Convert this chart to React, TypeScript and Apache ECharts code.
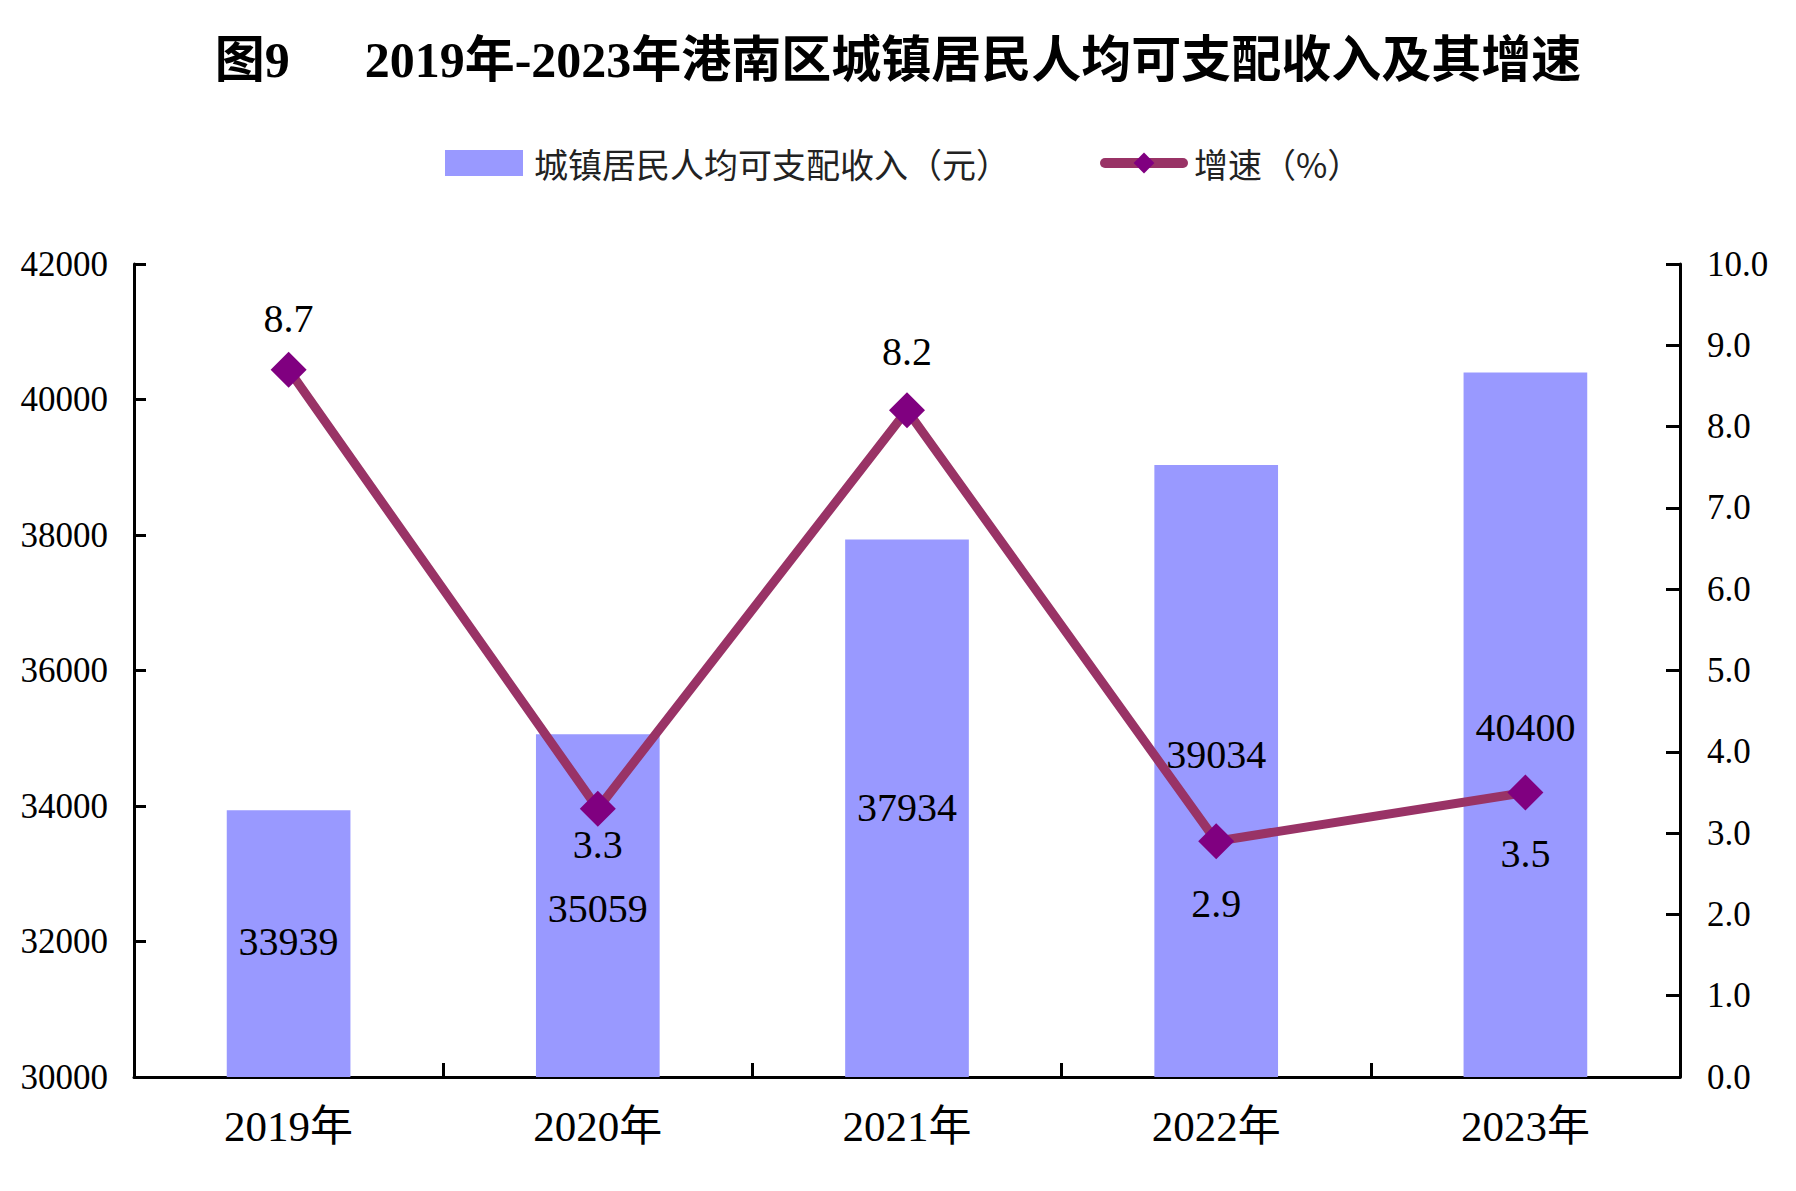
import React, { useEffect, useRef } from "react";
import * as echarts from "echarts";

const categories = ["2019年", "2020年", "2021年", "2022年", "2023年"];
const incomeValues = [33939, 35059, 37934, 39034, 40400];
const growthValues = [8.7, 3.3, 8.2, 2.9, 3.5];
const incomeAxis = { min: 30000, max: 42000, interval: 2000 };
const growthAxis = { min: 0, max: 10, interval: 1 };

const titleText = "图9      2019年-2023年港南区城镇居民人均可支配收入及其增速";
const incomeName = "城镇居民人均可支配收入（元）";
const growthName = "增速（%）";

// label placement styles (pixels), kept apart from the data
const barLabelDepth = [131, 174, 268, 290, 355];
const growthLabelShift = [-51, 36, -59, 62, 61];

const SERIF = "'Liberation Serif', 'Noto Sans CJK SC', serif";

export default function App() {
  const ref = useRef<HTMLDivElement>(null);

  useEffect(() => {
    document.body.style.margin = "0";
    const chart = echarts.init(ref.current!, null, { renderer: "svg" });
    const option: any = {
      animation: false,
      backgroundColor: "#ffffff",
      title: {
        text: titleText,
        left: "center",
        top: 30,
        textStyle: {
          fontFamily: SERIF,
          fontSize: 50,
          fontWeight: "bold",
          color: "#000",
        },
      },
      legend: {
        left: 440,
        top: 141,
        itemWidth: 78,
        itemHeight: 26,
        itemGap: 90,
        textStyle: {
          fontFamily: "'Noto Sans CJK SC', sans-serif",
          fontSize: 34,
          color: "#222",
          padding: [0, 0, 0, 6],
        },
        data: [
          { name: incomeName, icon: "rect" },
          {
            name: growthName,
            lineStyle: { width: 10, color: "#993366", cap: "round" },
            itemStyle: { color: "#800080" },
          },
        ],
      },
      grid: { left: 134, right: 116, top: 264, bottom: 114 },
      xAxis: {
        type: "category",
        data: categories,
        axisLine: { show: true, lineStyle: { color: "#000", width: 3 } },
        axisTick: { show: true, inside: true, length: 14, lineStyle: { color: "#000", width: 3 } },
        axisLabel: { fontFamily: SERIF, fontSize: 43, color: "#000", margin: 28 },
      },
      yAxis: [
        {
          type: "value",
          min: incomeAxis.min,
          max: incomeAxis.max,
          interval: incomeAxis.interval,
          axisLine: { show: true, lineStyle: { color: "#000", width: 3 } },
          axisTick: { show: true, inside: true, length: 12, lineStyle: { color: "#000", width: 3 } },
          splitLine: { show: false },
          axisLabel: {
            fontFamily: SERIF,
            fontSize: 35,
            color: "#000",
            margin: 26,
            formatter: (v: number) => String(v),
          },
        },
        {
          type: "value",
          min: growthAxis.min,
          max: growthAxis.max,
          interval: growthAxis.interval,
          position: "right",
          axisLine: { show: true, lineStyle: { color: "#000", width: 3 } },
          axisTick: { show: true, inside: true, length: 14, lineStyle: { color: "#000", width: 3 } },
          splitLine: { show: false },
          axisLabel: {
            fontFamily: SERIF,
            fontSize: 35,
            color: "#000",
            margin: 27,
            formatter: (v: number) => v.toFixed(1),
          },
        },
      ],
      series: [
        {
          name: incomeName,
          type: "bar",
          yAxisIndex: 0,
          barWidth: "40%",
          itemStyle: { color: "#9999FF" },
          data: incomeValues.map((v, i) => ({
            value: v,
            label: {
              show: true,
              position: ["50%", barLabelDepth[i]],
              align: "center",
              verticalAlign: "middle",
              fontFamily: SERIF,
              fontSize: 40,
              color: "#000",
            },
          })),
        },
        {
          name: growthName,
          type: "line",
          yAxisIndex: 1,
          z: 5,
          symbol: "diamond",
          symbolSize: 36,
          lineStyle: { color: "#993366", width: 9 },
          itemStyle: { color: "#800080" },
          data: growthValues.map((v, i) => ({
            value: v,
            label: {
              show: true,
              position: "inside",
              offset: [0, growthLabelShift[i]],
              fontFamily: SERIF,
              fontSize: 40,
              color: "#000",
              formatter: (p: any) => Number(p.value).toFixed(1),
            },
          })),
        },
      ],
    };
    chart.setOption(option);
    return () => chart.dispose();
  }, []);

  return (
    <div
      ref={ref}
      style={{ position: "absolute", left: 0, top: 0, width: 1796, height: 1191 }}
    />
  );
}
